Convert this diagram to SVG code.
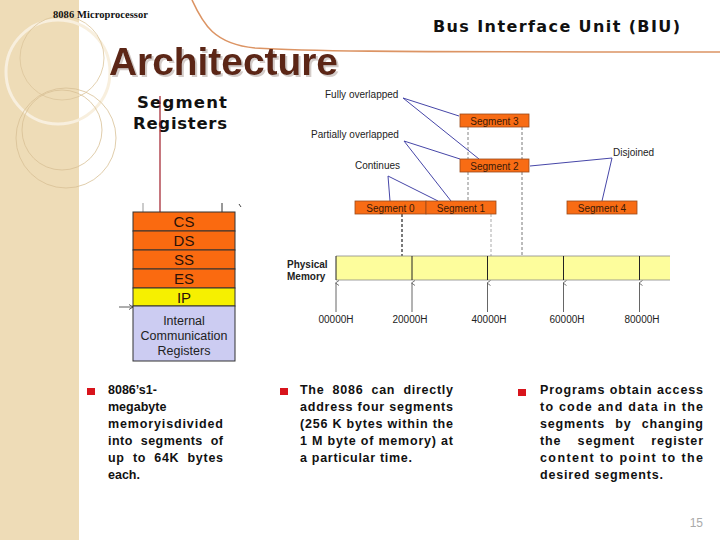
<svg xmlns="http://www.w3.org/2000/svg" width="720" height="540" viewBox="0 0 720 540">
<defs>
<style>
.seg{fill:#f86c14;stroke:#9a4a1a;stroke-width:0.8}
.segt{font-family:"Liberation Sans",Arial,sans-serif;font-size:10px;fill:#3a1a08;text-anchor:middle}
.lab{font-family:"Liberation Sans",Arial,sans-serif;font-size:10px;fill:#222}
.conn{stroke:#4646a8;stroke-width:1;fill:none}
.reg{fill:#fa6a10;stroke:#333;stroke-width:1}
.regt{font-family:"Liberation Sans",Arial,sans-serif;font-size:15px;fill:#2a1208;text-anchor:middle}
.addr{font-family:"Liberation Sans",Arial,sans-serif;font-size:10px;fill:#222;text-anchor:middle}
.bul{font-family:"Liberation Sans",Arial,sans-serif;font-size:12.5px;font-weight:bold;fill:#111}
.sq{fill:#d8141c}
.up{stroke:#555;stroke-width:0.9;fill:none}
</style>
<filter id="sh" x="-5%" y="-20%" width="115%" height="150%">
<feDropShadow dx="2" dy="2" stdDeviation="0.6" flood-color="#b8aaa4" flood-opacity="0.6"/>
</filter>
<marker id="ah" markerWidth="6" markerHeight="6" refX="3" refY="1" orient="auto-start-reverse" markerUnits="userSpaceOnUse">
<path d="M0.5,4 L3,0.5 L5.5,4" fill="none" stroke="#555" stroke-width="0.8"/>
</marker>
<marker id="ar" markerWidth="6" markerHeight="6" refX="5" refY="3" orient="auto" markerUnits="userSpaceOnUse">
<path d="M1,0.5 L5,3 L1,5.5" fill="none" stroke="#333" stroke-width="0.8"/>
</marker>
</defs>
<rect width="720" height="540" fill="#ffffff"/>
<!-- left band -->
<g id="band">
<rect x="0" y="0" width="79" height="540" fill="#eedcb7"/>
<circle cx="58" cy="72" r="52" fill="none" stroke="#f8efde" stroke-width="3"/>
<circle cx="62" cy="58" r="42" fill="none" stroke="#dcc59c" stroke-width="0.8"/>
<circle cx="66" cy="138" r="50" fill="none" stroke="#d8c096" stroke-width="0.8"/>
<circle cx="62" cy="130" r="40" fill="none" stroke="#d8c096" stroke-width="0.8"/>
</g>
<path d="M192,0 C203,24 214,44 255,48 C300,51 360,52 720,52" fill="none" stroke="#dc9464" stroke-width="1.6"/>
<text x="53" y="18" font-family="'Liberation Serif',serif" font-size="10.5" font-weight="bold" fill="#111" textLength="95">8086 Microprocessor</text>
<text x="109" y="75" font-family="'Liberation Sans',Arial,sans-serif" font-size="39" font-weight="bold" fill="#5c2616" textLength="229" filter="url(#sh)">Architecture</text>
<text x="433" y="32" font-family="'DejaVu Sans',Verdana,sans-serif" font-size="16" font-weight="bold" fill="#111" textLength="247">Bus Interface Unit (BIU)</text>
<text x="137" y="108" font-family="'DejaVu Sans',Verdana,sans-serif" font-size="16.5" font-weight="bold" fill="#111" textLength="90">Segment</text>
<text x="133" y="129" font-family="'DejaVu Sans',Verdana,sans-serif" font-size="16.5" font-weight="bold" fill="#111" textLength="94">Registers</text>
<!-- register stack -->
<g id="connectors-left">
<line x1="160" y1="96" x2="160" y2="212" stroke="#a01c28" stroke-width="1.2"/>
<line x1="143" y1="203" x2="143" y2="212" stroke="#999" stroke-width="1"/>
<line x1="222" y1="203" x2="222" y2="212" stroke="#333" stroke-width="1"/>
<line x1="239" y1="204" x2="241" y2="207" stroke="#444" stroke-width="1"/>
<line x1="119" y1="307" x2="133" y2="307" stroke="#333" stroke-width="0.8" marker-end="url(#ar)"/>
</g>
<g id="reg-cs"><rect class="reg" x="133" y="212" width="102" height="19"/><text class="regt" x="184" y="227">CS</text></g>
<g id="reg-ds"><rect class="reg" x="133" y="231" width="102" height="19"/><text class="regt" x="184" y="246">DS</text></g>
<g id="reg-ss"><rect class="reg" x="133" y="250" width="102" height="19"/><text class="regt" x="184" y="265">SS</text></g>
<g id="reg-es"><rect class="reg" x="133" y="269" width="102" height="19"/><text class="regt" x="184" y="284">ES</text></g>
<g id="reg-ip"><rect x="133" y="288" width="102" height="18" fill="#f6f000" stroke="#333" stroke-width="1"/><text class="regt" x="184" y="303">IP</text></g>
<g id="reg-icr"><rect x="133" y="306" width="102" height="55" fill="#ccccf2" stroke="#333" stroke-width="1"/>
<text x="184" y="325" font-family="'Liberation Sans',Arial,sans-serif" font-size="12.5" fill="#222" text-anchor="middle">Internal</text>
<text x="184" y="340" font-family="'Liberation Sans',Arial,sans-serif" font-size="12.5" fill="#222" text-anchor="middle">Communication</text>
<text x="184" y="355" font-family="'Liberation Sans',Arial,sans-serif" font-size="12.5" fill="#222" text-anchor="middle">Registers</text></g>
<!-- segment diagram connectors -->
<g id="connectors">
<line x1="468" y1="127" x2="468" y2="159" stroke="#666" stroke-width="0.8" stroke-dasharray="3,2"/>
<line x1="468" y1="172" x2="468" y2="201" stroke="#666" stroke-width="0.8" stroke-dasharray="3,2"/>
<line x1="522" y1="127" x2="522" y2="256" stroke="#555" stroke-width="0.8" stroke-dasharray="3,2"/>
<line x1="402" y1="214" x2="402" y2="256" stroke="#333" stroke-width="1.3" stroke-dasharray="3,2"/>
<line x1="491" y1="214" x2="491" y2="256" stroke="#aaa" stroke-width="1" stroke-dasharray="3,2"/>
<polyline class="conn" points="459,116 403,98 479,159"/>
<polyline class="conn" points="460,159 404,141 451,201"/>
<polyline class="conn" points="390,201 388,176 438,201"/>
<polyline class="conn" points="530,166 612,158 602,201"/>
</g>
<g id="fully"><text class="lab" x="325" y="98">Fully overlapped</text></g>
<g id="partially"><text class="lab" x="311" y="138">Partially overlapped</text></g>
<g id="continues"><text class="lab" x="355" y="169">Continues</text></g>
<g id="disjoined"><text class="lab" x="613" y="156">Disjoined</text></g>
<g id="seg3"><rect class="seg" x="460" y="114" width="69" height="13"/><text class="segt" x="494.5" y="124.5">Segment 3</text></g>
<g id="seg2"><rect class="seg" x="460" y="159" width="69" height="13"/><text class="segt" x="494.5" y="169.5">Segment 2</text></g>
<g id="seg0"><rect class="seg" x="355" y="201" width="71" height="13"/><text class="segt" x="390.5" y="211.5">Segment 0</text></g>
<g id="seg1"><rect class="seg" x="426" y="201" width="70" height="13"/><text class="segt" x="461" y="211.5">Segment 1</text></g>
<g id="seg4"><rect class="seg" x="567" y="201" width="70" height="13"/><text class="segt" x="602" y="211.5">Segment 4</text></g>
<!-- physical memory -->
<g id="memory">
<rect x="336" y="256" width="334" height="24" fill="#fdfd9c"/>
<line x1="336" y1="256" x2="670" y2="256" stroke="#888" stroke-width="0.8"/>
<line x1="336" y1="280" x2="670" y2="280" stroke="#888" stroke-width="0.8"/>
<line x1="336" y1="256" x2="336" y2="280" stroke="#222" stroke-width="1"/>
<line x1="412" y1="256" x2="412" y2="280" stroke="#222" stroke-width="1"/>
<line x1="487.5" y1="256" x2="487.5" y2="280" stroke="#222" stroke-width="1"/>
<line x1="563.5" y1="256" x2="563.5" y2="280" stroke="#222" stroke-width="1"/>
<line x1="639.5" y1="256" x2="639.5" y2="280" stroke="#222" stroke-width="1"/>
<text x="287" y="268" font-family="'Liberation Sans',Arial,sans-serif" font-size="10" font-weight="bold" fill="#222">Physical</text>
<text x="287" y="280" font-family="'Liberation Sans',Arial,sans-serif" font-size="10" font-weight="bold" fill="#222">Memory</text>
</g>
<g id="addr-arrows">
<line class="up" x1="336" y1="312" x2="336" y2="283" marker-end="url(#ah)"/>
<line class="up" x1="412" y1="312" x2="412" y2="283" marker-end="url(#ah)"/>
<line class="up" x1="487.5" y1="312" x2="487.5" y2="283" marker-end="url(#ah)"/>
<line class="up" x1="563.5" y1="312" x2="563.5" y2="283" marker-end="url(#ah)"/>
<line class="up" x1="639.5" y1="312" x2="639.5" y2="283" marker-end="url(#ah)"/>
</g>
<g id="addresses">
<text class="addr" x="336" y="323">00000H</text>
<text class="addr" x="410" y="323">20000H</text>
<text class="addr" x="489" y="323">40000H</text>
<text class="addr" x="567" y="323">60000H</text>
<text class="addr" x="642" y="323">80000H</text>
</g>
<!-- bullets -->
<g id="bullet1">
<rect class="sq" x="87" y="388" width="8" height="7"/>
<text class="bul" x="108" y="394">8086’s1-</text>
<text class="bul" x="108" y="411">megabyte</text>
<text class="bul" x="108" y="428" textLength="115" lengthAdjust="spacing">memoryisdivided</text>
<text class="bul" x="108" y="445" textLength="115" lengthAdjust="spacing" word-spacing="4">into segments of</text>
<text class="bul" x="108" y="462" textLength="115" lengthAdjust="spacing" word-spacing="4">up to 64K bytes</text>
<text class="bul" x="108" y="479">each.</text>
</g>
<g id="bullet2">
<rect class="sq" x="280" y="388" width="8" height="7"/>
<text class="bul" x="300" y="394" textLength="153" lengthAdjust="spacing" word-spacing="4">The 8086 can directly</text>
<text class="bul" x="300" y="411" textLength="153" lengthAdjust="spacing">address four segments</text>
<text class="bul" x="300" y="428" textLength="153" lengthAdjust="spacing">(256 K bytes within the</text>
<text class="bul" x="300" y="445" textLength="153" lengthAdjust="spacing">1 M byte of memory) at</text>
<text class="bul" x="300" y="462" textLength="112" lengthAdjust="spacing">a particular time.</text>
</g>
<g id="bullet3">
<rect class="sq" x="518" y="389" width="8" height="7"/>
<text class="bul" x="540" y="394" textLength="163" lengthAdjust="spacing">Programs obtain access</text>
<text class="bul" x="540" y="411" textLength="163" lengthAdjust="spacing">to code and data in the</text>
<text class="bul" x="540" y="428" textLength="163" lengthAdjust="spacing" word-spacing="6">segments by changing</text>
<text class="bul" x="540" y="445" textLength="163" lengthAdjust="spacing" word-spacing="12">the segment register</text>
<text class="bul" x="540" y="462" textLength="163" lengthAdjust="spacing">content to point to the</text>
<text class="bul" x="540" y="479" textLength="123" lengthAdjust="spacing">desired segments.</text>
</g>
<text x="703" y="527" font-family="'Liberation Sans',Arial,sans-serif" font-size="12" fill="#aaaaaa" text-anchor="end">15</text>
</svg>
